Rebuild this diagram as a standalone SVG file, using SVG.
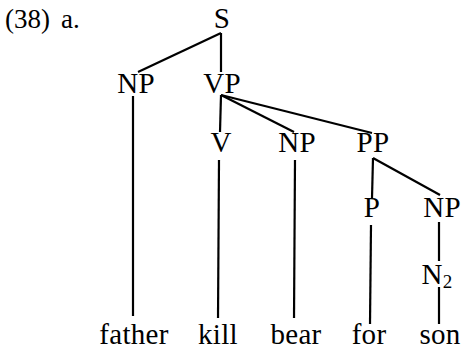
<svg xmlns="http://www.w3.org/2000/svg" width="461" height="351" viewBox="0 0 461 351">
<style>
text{font-family:"Liberation Serif","Times New Roman",serif;font-size:29px;fill:#000;text-anchor:middle;letter-spacing:0.3px}
.lab{text-anchor:start;font-size:27px;letter-spacing:0px}
.c line{stroke:#000;stroke-width:2.2;stroke-linecap:butt}
</style>
<rect width="461" height="351" fill="#fff"/>
<text class="lab" x="5" y="28">(38)</text>
<text class="lab" x="61" y="28">a.</text>
<g class="c" id="connectors">
<line x1="221" y1="33" x2="138" y2="72"/>
<line x1="221" y1="33" x2="221" y2="72"/>
<line x1="133" y1="96" x2="133" y2="316"/>
<line x1="221" y1="95" x2="220" y2="132"/>
<line x1="221" y1="95" x2="294" y2="132"/>
<line x1="221" y1="95" x2="372" y2="133"/>
<line x1="219" y1="160" x2="218" y2="318"/>
<line x1="295" y1="160" x2="294" y2="318"/>
<line x1="373" y1="158" x2="372" y2="198"/>
<line x1="373" y1="158" x2="440" y2="195"/>
<line x1="371" y1="225" x2="370" y2="324"/>
<line x1="439" y1="222" x2="439" y2="261"/>
<line x1="439" y1="287" x2="439" y2="324"/>
</g>
<g id="S"><text x="222" y="28">S</text></g>
<g id="NP1"><text x="136" y="93">NP</text></g>
<g id="VP"><text x="222" y="93">VP</text></g>
<g id="V"><text x="221" y="152">V</text></g>
<g id="NP2"><text x="297" y="152">NP</text></g>
<g id="PP"><text x="373" y="152">PP</text></g>
<g id="P"><text x="372" y="217">P</text></g>
<g id="NP3"><text x="442" y="217">NP</text></g>
<g id="N2"><text x="437" y="284">N<tspan style="font-size:19px" dy="4">2</tspan></text></g>
<g id="father"><text x="134" y="344">father</text></g>
<g id="kill"><text x="218" y="344">kill</text></g>
<g id="bear"><text x="296" y="344">bear</text></g>
<g id="for"><text x="369" y="344">for</text></g>
<g id="son"><text x="440" y="344">son</text></g>
</svg>
